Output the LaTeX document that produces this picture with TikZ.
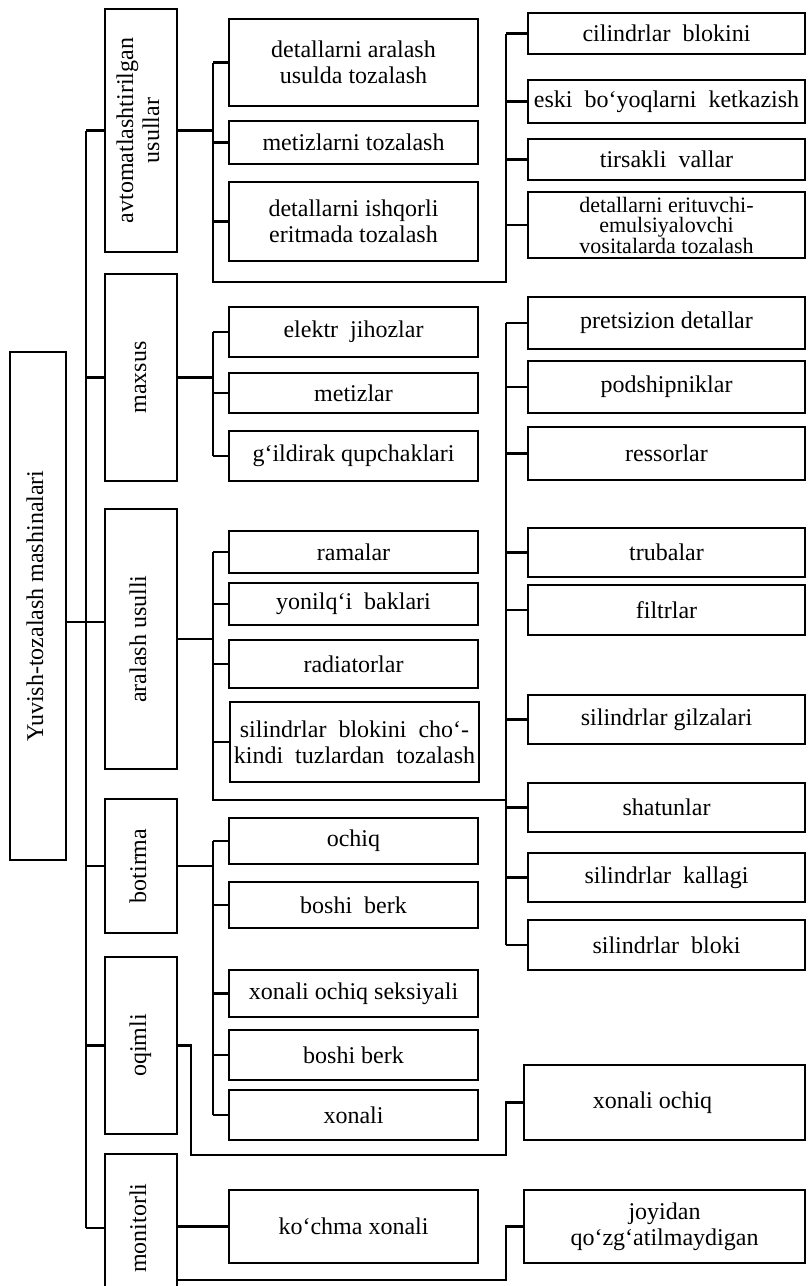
\documentclass[tikz,border=0pt]{standalone}
\usepackage{fontspec}
\setmainfont{Liberation Serif}
\usepackage{graphicx}
\newcommand{\vlab}[1]{\rotatebox{90}{\begin{tabular}{@{}c@{}}#1\end{tabular}}}

\begin{document}
\begin{tikzpicture}[
    % GLOBAL CFG
    x=1pt, y=-1pt,
    font=\fontsize{24}{26}\selectfont,
    line width=2.1pt,
    % Styles
    group/.style={% For the upright group boxes
        rectangle,
        draw,
        minimum width=72pt,
        inner sep=0pt,
    },
    item/.style={% For the middle column
        rectangle,
        draw,
        minimum width=249pt,
        minimum height=#1,
        inner sep=0pt,
        align=center,
    },
    part/.style={% For the right column
        rectangle,
        draw,
        minimum width=277pt,
        minimum height=#1,
        inner sep=0pt,
        align=center,
    },
    wide/.style={% For the two lower right boxes
        rectangle,
        draw,
        minimum width=281pt,
        minimum height=#1,
        inner sep=0pt,
        align=center,
    },
    ]

    \useasboundingbox (0,0) rectangle (807,1286);

    % Draw root
    \node [group, minimum width=56pt, minimum height=508pt] (root) at (38,606) {\vlab{Yuvish-tozalash mashinalari}};

    % Draw groups
    \node [group, minimum height=243pt] (avto) at (141,130.5) {\vlab{avtomatlashtirilgan\\usullar}};
    \node [group, minimum height=207pt] (maxsus) at (141,377.5) {\vlab{maxsus}};
    \node [group, minimum height=260pt] (aralash) at (141,639) {\vlab{aralash usulli}};
    \node [group, minimum height=134pt] (botirma) at (141,866) {\vlab{botirma}};
    \node [group, minimum height=177pt] (oqimli) at (141,1045.5) {\vlab{oqimli}};
    \node [group, minimum height=148pt] (monitorli) at (141,1228) {\vlab{monitorli}};

    % Middle column
    \node [item=87pt] (d1) at (353.5,62.5) {detallarni aralash\\usulda tozalash};
    \node [item=43pt] (d2) at (353.5,142.5) {metizlarni tozalash};
    \node [item=79pt] (d3) at (353.5,221.5) {detallarni ishqorli\\eritmada tozalash};

    \node [item=50pt] (m1) at (353.5,332) {elektr\ \ jihozlar};
    \node [item=40pt] (m2) at (353.5,393) {metizlar};
    \node [item=50pt] (m3) at (353.5,456) {g‘ildirak qupchaklari};

    \node [item=42pt] (a1) at (353.5,552) {ramalar};
    \node [item=42pt] (a2) at (353.5,604) {yonilq‘i\ \ baklari};
    \node [item=48pt] (a3) at (353.5,664) {radiatorlar};
    \node [item=80pt] (a4) at (354.5,742) {silindrlar\ \ blokini\ \ cho‘-\\kindi\ \ tuzlardan\ \ tozalash};

    \node [item=46pt] (t1) at (353.5,841) {ochiq};
    \node [item=46pt] (t2) at (353.5,905) {boshi\ \ berk};
    \node [item=47pt] (t3) at (353.5,993.5) {xonali ochiq seksiyali};
    \node [item=50pt] (t4) at (353.5,1055) {boshi berk};
    \node [item=50pt] (t5) at (353.5,1115) {xonali};

    \node [item=73pt] (k1) at (353.5,1226.5) {ko‘chma xonali};

    % Right column
    \node [part=41pt] (c1) at (666.5,33.5) {cilindrlar\ \ blokini};
    \node [part=43pt] (c2) at (666.5,101.5) {eski\ \ bo‘yoqlarni\ \ ketkazish};
    \node [part=41pt] (c3) at (666.5,159.5) {tirsakli\ \ vallar};
    \node [part=66pt, font=\fontsize{22}{20}\selectfont] (c4) at (666.5,225) {detallarni erituvchi-\\emulsiyalovchi\\vositalarda tozalash};

    \node [part=52pt] (p1) at (666.5,323) {pretsizion detallar};
    \node [part=52pt] (p2) at (666.5,387) {podshipniklar};
    \node [part=53pt] (p3) at (666.5,453.5) {ressorlar};
    \node [part=49pt] (p4) at (666.5,552.5) {trubalar};
    \node [part=50pt] (p5) at (666.5,610) {filtrlar};
    \node [part=49pt] (p6) at (666.5,719.5) {silindrlar gilzalari};
    \node [part=49pt] (p7) at (666.5,807.5) {shatunlar};
    \node [part=49pt] (p8) at (666.5,877.5) {silindrlar\ \ kallagi};
    \node [part=50pt] (p9) at (666.5,945) {silindrlar\ \ bloki};

    \node [wide=75pt] (x1) at (664.5,1102.5) {xonali ochiq\hspace*{24pt}};
    \node [wide=73pt] (j1) at (664.5,1226.5) {joyidan\\qo‘zg‘atilmaydigan};

    % Bracket lines and turning points
    \coordinate (sp) at (86,0);
    \coordinate (hub) at (86,622);
    \coordinate (br) at (213,0);
    \coordinate (bl) at (506,0);
    \coordinate (avend) at (213,282);
    \coordinate (arend) at (213,800);
    \coordinate (oqturn) at (191,1155);
    \coordinate (mnturn) at (506,1280);

    % Connect all
    % Main spine
    \draw (avto.west -| sp) -- (monitorli.west -| sp);
    \foreach \g in {avto,maxsus,botirma,oqimli,monitorli}
        \draw (\g.west -| sp) -- (\g.west);
    \draw (hub -| root.east) -- (hub -| aralash.west);

    % avtomatlashtirilgan
    \draw (avto.east) -- (avto.east -| br);
    \draw (d1.west -| br) -- (avend) -- (avend -| bl) -- (c1.west -| bl);
    \foreach \n in {d1,d2,d3}
        \draw (\n.west -| br) -- (\n.west);
    \foreach \n in {c1,c2,c3,c4}
        \draw (\n.west -| bl) -- (\n.west);

    % maxsus
    \draw (maxsus.east) -- (maxsus.east -| br);
    \draw (m1.west -| br) -- (m3.west -| br);
    \foreach \n in {m1,m2,m3}
        \draw (\n.west -| br) -- (\n.west);

    % aralash usulli
    \draw (aralash.east) -- (aralash.east -| br);
    \draw (a1.west -| br) -- (arend) -- (arend -| bl);
    \foreach \n in {a1,a2,a3,a4}
        \draw (\n.west -| br) -- (\n.west);
    \draw (p1.west -| bl) -- (p9.west -| bl);
    \foreach \n in {p1,p2,p3,p4,p5,p6,p7,p8,p9}
        \draw (\n.west -| bl) -- (\n.west);

    % botirma
    \draw (botirma.east) -- (botirma.east -| br);
    \draw (t1.west -| br) -- (t5.west -| br);
    \foreach \n in {t1,t2,t3,t4,t5}
        \draw (\n.west -| br) -- (\n.west);

    % oqimli
    \draw (oqimli.east) -- (oqimli.east -| oqturn) -- (oqturn) -- (oqturn -| bl) -- (x1.west -| bl) -- (x1.west);

    % monitorli
    \draw (monitorli.east |- k1.west) -- (k1.west);
    \draw (monitorli.east |- mnturn) -- (mnturn) -- (mnturn |- j1.west) -- (j1.west);

\end{tikzpicture}
\end{document}
